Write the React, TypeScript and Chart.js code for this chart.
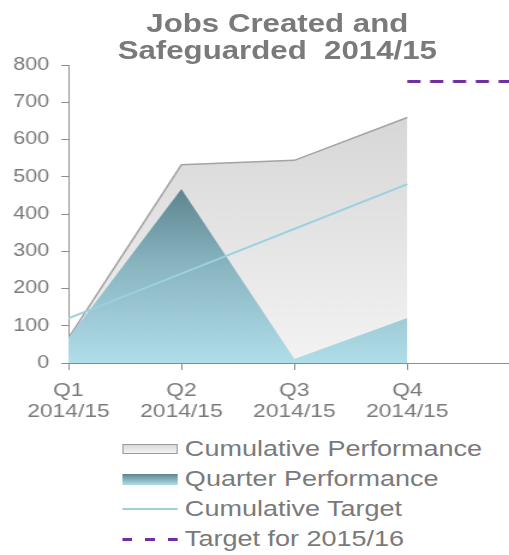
import React, { useEffect, useRef } from "react";
import { Chart, registerables } from "chart.js";

Chart.register(...registerables);

// ---- data ----
const quarterLabels = ["Q1", "Q2", "Q3", "Q4"];
const periodLabels = ["2014/15", "2014/15", "2014/15", "2014/15"];
const cumulativePerformance = [67, 532, 544, 659];
const quarterPerformance = [67, 467, 11, 121];
const cumulativeTarget = [120, 240, 360, 480];
const nextYearTarget = [756, 756];
const yTicksMax = 800;
const yTicksStep = 100;

const titleLines = ["Jobs Created and", "Safeguarded  2014/15"];
const legendLabels = [
  "Cumulative Performance",
  "Quarter Performance",
  "Cumulative Target",
  "Target for 2015/16",
];

const FONT = "'Liberation Sans', Arial, sans-serif";
const TEXT = "#7a7a7a";
const AXIS = "#8c8c8c";
const W = 424;
const SX = 509 / W;

export default function App() {
  const ref = useRef<HTMLCanvasElement | null>(null);

  useEffect(() => {
    if (!ref.current) return;
    const toXY = (arr: number[]) => arr.map((y, i) => ({ x: i, y }));
    const n = quarterLabels.length;

    const chart = new Chart(ref.current, {
      type: "line",
      data: {
        datasets: [
          {
            label: legendLabels[3],
            data: nextYearTarget.map((y, i) => ({ x: n - 1 + i, y })),
            borderColor: "#7030a0",
            borderWidth: 3,
            borderDash: [11, 8],
            pointRadius: 0,
            fill: false,
            order: 0,
          },
          {
            label: legendLabels[2],
            data: toXY(cumulativeTarget),
            borderColor: "#9ad1df",
            borderWidth: 2,
            pointRadius: 0,
            fill: false,
            order: 1,
          },
          {
            label: legendLabels[1],
            data: toXY(quarterPerformance),
            borderColor: "rgba(0,0,0,0)",
            borderWidth: 0,
            pointRadius: 0,
            fill: "origin",
            backgroundColor: (c: any) => {
              const ch = c.chart;
              if (!ch.chartArea) return "#8fbcc8";
              const y = ch.scales.y;
              const g = ch.ctx.createLinearGradient(
                0,
                y.getPixelForValue(Math.max(...quarterPerformance)),
                0,
                y.getPixelForValue(0)
              );
              g.addColorStop(0, "#5d8590");
              g.addColorStop(0.45, "#8ab6c2");
              g.addColorStop(1, "#afdde8");
              return g;
            },
            order: 2,
          },
          {
            label: legendLabels[0],
            data: toXY(cumulativePerformance),
            borderColor: "#a3a3a3",
            borderWidth: 1.5,
            pointRadius: 0,
            fill: "origin",
            backgroundColor: (c: any) => {
              const ch = c.chart;
              if (!ch.chartArea) return "#e6e6e6";
              const y = ch.scales.y;
              const g = ch.ctx.createLinearGradient(
                0,
                y.getPixelForValue(Math.max(...cumulativePerformance)),
                0,
                y.getPixelForValue(0)
              );
              g.addColorStop(0, "#d7d7d7");
              g.addColorStop(1, "#f3f3f3");
              return g;
            },
            order: 3,
          },
        ],
      },
      options: {
        responsive: false,
        animation: false,
        layout: { padding: { top: 65, right: 0, left: 0, bottom: 0 } },
        plugins: {
          legend: { display: false },
          title: { display: false },
          tooltip: { enabled: false },
        },
        scales: {
          x: {
            type: "linear",
            min: 0,
            max: n - 0.1,
            grid: {
              drawOnChartArea: false,
              drawTicks: true,
              tickLength: 7,
              color: AXIS,
            },
            border: { color: AXIS, width: 1 },
            ticks: {
              stepSize: 1,
              includeBounds: false,
              autoSkip: false,
              maxRotation: 0,
              padding: 10,
              color: TEXT,
              font: { family: FONT, size: 19, lineHeight: 1.1 },
              callback: (v: any) => {
                const i = Number(v);
                return Number.isInteger(i) && i < n
                  ? [quarterLabels[i], periodLabels[i]]
                  : "";
              },
            },
            afterFit: (s: any) => {
              s.height = 57;
            },
          },
          y: {
            min: 0,
            max: yTicksMax,
            grid: {
              drawOnChartArea: false,
              drawTicks: true,
              tickLength: 6,
              color: AXIS,
            },
            border: { color: AXIS, width: 1 },
            ticks: {
              stepSize: yTicksStep,
              padding: 10,
              color: TEXT,
              font: { family: FONT, size: 18 },
            },
            afterFit: (s: any) => {
              s.width = 57;
            },
          },
        },
      },
    });
    return () => chart.destroy();
  }, []);

  const rowCenters = [449, 479, 509, 539];
  const swatches: React.CSSProperties[] = [
    {
      height: 10,
      border: "1px solid #9a9a9a",
      background: "linear-gradient(#d9d9d9, #f4f4f4)",
    },
    { height: 11, background: "linear-gradient(#5d8590, #afdde8)" },
    { height: 2, background: "#9ad1df" },
    {
      height: 3,
      background:
        "repeating-linear-gradient(to right, #7030a0 0 8px, transparent 8px 19px)",
    },
  ];

  return (
    <div
      style={{
        position: "absolute",
        left: 0,
        top: 0,
        width: W,
        height: 555,
        background: "#fff",
        transform: `scaleX(${SX})`,
        transformOrigin: "0 0",
        fontFamily: FONT,
      }}
    >
      <canvas
        ref={ref}
        width={W}
        height={420}
        style={{ position: "absolute", left: 0, top: 0, width: W, height: 420 }}
      />
      <div
        style={{
          position: "absolute",
          top: 10,
          left: 231,
          transform: "translateX(-50%)",
          whiteSpace: "pre",
          textAlign: "center",
          fontWeight: "bold",
          fontSize: 26,
          lineHeight: "27px",
          color: TEXT,
        }}
      >
        {titleLines.join("\n")}
      </div>
      {legendLabels.map((lab, i) => (
        <div
          key={lab}
          style={{
            position: "absolute",
            left: 101.5,
            top: rowCenters[i] - 15,
            height: 30,
            display: "flex",
            alignItems: "center",
            whiteSpace: "nowrap",
          }}
        >
          <div style={{ width: 46, boxSizing: "border-box", ...swatches[i] }} />
          <span
            style={{
              marginLeft: 6.5,
              fontSize: 22.5,
              lineHeight: "30px",
              color: TEXT,
            }}
          >
            {lab}
          </span>
        </div>
      ))}
    </div>
  );
}
